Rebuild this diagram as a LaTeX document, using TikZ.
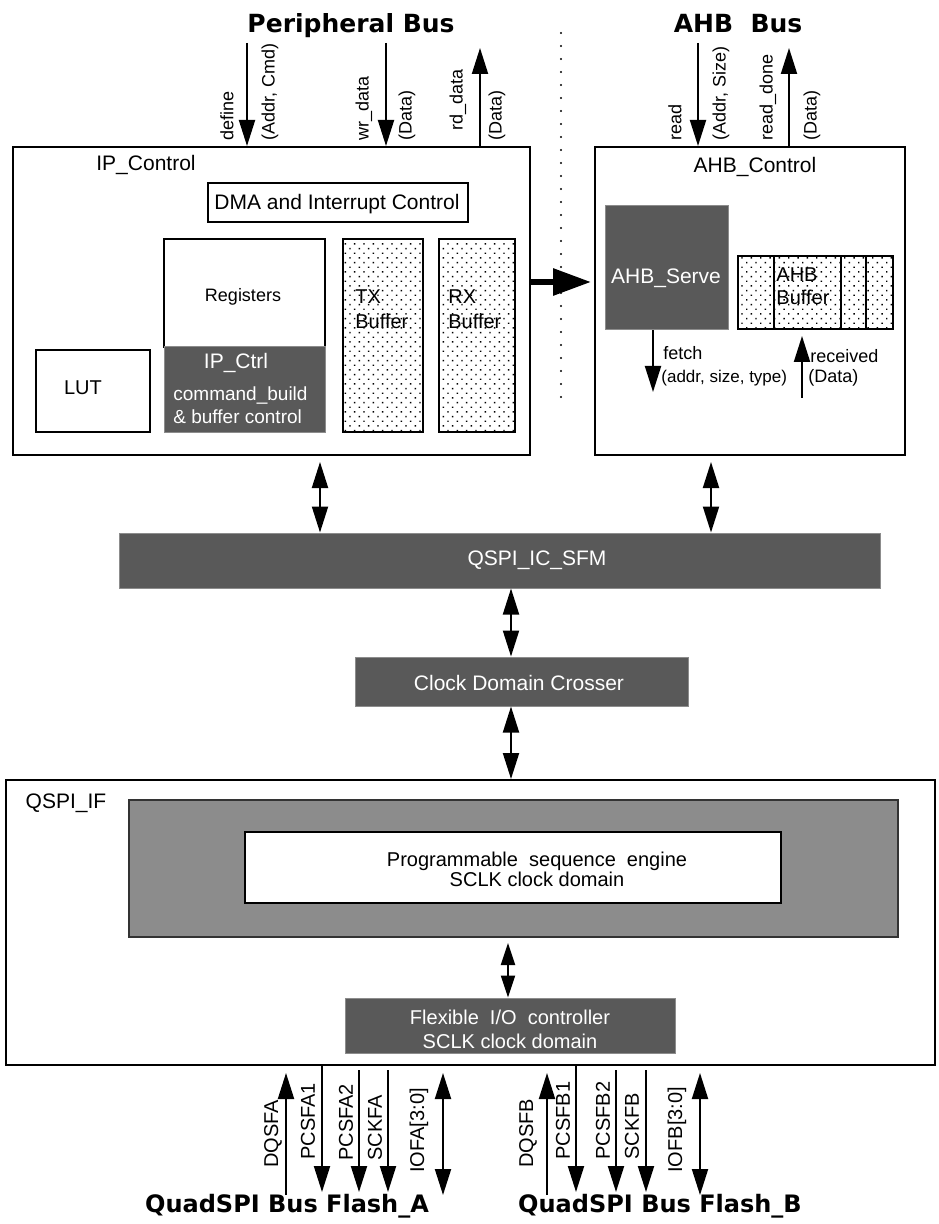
\documentclass[tikz,border=0pt]{standalone}
\usepackage{fontspec}
\setmainfont{Liberation Sans}
\newfontfamily\headfont{DejaVu Sans}
\usetikzlibrary{arrows.meta,positioning,fit,patterns.meta}
\definecolor{blockgray}{HTML}{595959}
\definecolor{meshgray}{HTML}{8C8C8C}
\newcommand{\fsz}[2]{\fontsize{#1}{#2}\selectfont}
\tikzset{
  outerbox/.style={draw=black, line width=1pt, inner sep=0pt},
  innerbox/.style={draw=black, line width=1pt, fill=white, inner sep=0pt},
  darkbox/.style={fill=blockgray, draw=black!45, line width=0.5pt, inner sep=0pt},
  dotbox/.style={draw=black, line width=1pt, inner sep=0pt,
    pattern={Dots[distance=3.3pt, angle=45, radius=0.5pt]}},
  meshbox/.style={draw=black!80, line width=1pt, fill=meshgray, inner sep=0pt},
  boxtext/.style={font=\fsz{10.5}{12.5}, inner sep=0pt},
  whitetext/.style={boxtext, text=white},
  siglbl/.style={rotate=90, anchor=west, inner sep=0pt, font=\fsz{9}{10}},
  pinlbl/.style={rotate=90, anchor=west, inner sep=0pt, font=\fsz{10}{11}},
  buslbl/.style={font=\headfont\bfseries\fsz{12.5}{14}, inner sep=0pt, anchor=base},
  sigar/.style={-{Triangle[length=13pt,width=8pt]}, line width=1pt},
  bisigar/.style={{Triangle[length=13pt,width=8pt]}-{Triangle[length=13pt,width=8pt]}, line width=1pt},
  shortbiar/.style={{Triangle[length=11pt,width=7pt]}-{Triangle[length=11pt,width=7pt]}, line width=1pt},
  bigar/.style={-{Triangle[length=19pt,width=13pt]}, line width=3pt},
  sepline/.style={line width=1.2pt, dash pattern=on 0pt off 6.5pt, line cap=round}
}
\begin{document}
\begin{tikzpicture}[x=0.5pt,y=-0.5pt]
  \useasboundingbox (0,0) rectangle (938,1224);

  % bus titles
  \node[buslbl] (periphbus) at (351,33) {Peripheral Bus};
  \node[buslbl] (ahbbus)    at (738,33) {AHB\ \ Bus};

  % separator
  \coordinate (septop) at (561,33);
  \coordinate (sepbot) at (561,410);
  \draw[sepline] (septop) -- (sepbot);

  % IP side
  \node[outerbox, fit={(13,147) (530,455)}] (ipctl) {};
  \node[boxtext, anchor=west] (ipctllbl) at (96,165) {IP\_Control};
  \node[innerbox, fit={(208,183) (468,222)}] (dma) {};
  \node[boxtext] (dmalbl) at (337,204) {DMA and Interrupt Control};
  \node[innerbox, fit={(164,239) (325,347)}] (regs) {};
  \node[boxtext, font=\fsz{9}{10}] (regslbl) at (243,297) {Registers};
  \node[darkbox, fit={(164,347) (325,432)}] (ipctrl) {};
  \node[whitetext] (ipctrllbl) at (236,363) {IP\_Ctrl};
  \node[whitetext, anchor=west, align=left, font=\fsz{9.5}{11.5}] (ipctrltxt) at (173,405.5)
    {command\_build\\\& buffer control};
  \node[innerbox, fit={(36,350) (150,432)}] (lut) {};
  \node[boxtext, font=\fsz{10}{12}] (lutlbl) at (83,388) {LUT};
  \node[dotbox, fit={(343,239) (423,432)}] (txbuf) {};
  \node[boxtext, anchor=west, align=left, font=\fsz{10}{12.5}] (txlbl) at (355,309.5) {TX\\Buffer};
  \node[dotbox, fit={(439,239) (515,432)}] (rxbuf) {};
  \node[boxtext, anchor=west, align=left, font=\fsz{10}{12.5}] (rxlbl) at (448,309.5) {RX\\Buffer};

  % AHB side
  \node[outerbox, fit={(595,147) (905,455)}] (ahbctl) {};
  \node[boxtext] (ahbctllbl) at (755,167) {AHB\_Control};
  \node[darkbox, fit={(605,206) (728,330)}] (ahbserve) {};
  \node[whitetext] (ahbservelbl) at (666,278) {AHB\_Serve};
  \foreach \xa/\xb [count=\i] in {738/774,774/841,841/866,866/893}
    \node[dotbox, fit={(\xa,256) (\xb,329)}] (ahbcell\i) {};
  \node[boxtext, anchor=west, align=left, font=\fsz{10}{11.5}] (ahbbuflbl) at (776,286.5) {AHB\\Buffer};

  \coordinate (fetchend) at (653,392);
  \draw[sigar] (ahbserve.south -| fetchend) -- (fetchend);
  \node[boxtext, anchor=west, font=\fsz{9}{10}] (fetchlbl) at (663,353) {fetch};
  \node[boxtext, anchor=west, font=\fsz{8.5}{10}] (fetchargs) at (661,378) {(addr, size, type)};
  \coordinate (recvstart) at (802,398);
  \draw[sigar, shorten >=3pt] (recvstart) -- (recvstart |- ahbcell2.south);
  \node[boxtext, anchor=west, font=\fsz{9}{10}] (recvlbl) at (810,356) {received};
  \node[boxtext, anchor=west, font=\fsz{9}{10}] (recvargs) at (808,378) {(Data)};

  \coordinate (xferrow) at (0,282);
  \draw[bigar, shorten >=1.5pt] (ipctl.east |- xferrow) -- (ahbctl.west |- xferrow);

  % peripheral bus signals
  \node[siglbl] (definelbl)  at (227,141) {define};
  \node[siglbl] (defineargs) at (270,141) {(Addr, Cmd)};
  \coordinate (definesrc) at (247,43);
  \draw[sigar] (definesrc) -- (definesrc |- ipctl.north);
  \node[siglbl] (wrdatalbl)  at (364,141) {wr\_data};
  \node[siglbl] (wrdataargs) at (407,141) {(Data)};
  \coordinate (wrdatasrc) at (386,43);
  \draw[sigar] (wrdatasrc) -- (wrdatasrc |- ipctl.north);
  \node[siglbl] (rddatalbl)  at (458,131) {rd\_data};
  \node[siglbl] (rddataargs) at (497,141) {(Data)};
  \coordinate (rddataend) at (480,48);
  \draw[sigar] (ipctl.north -| rddataend) -- (rddataend);

  % AHB bus signals
  \node[siglbl] (readlbl)  at (675,141) {read};
  \node[siglbl] (readargs) at (721,141) {(Addr, Size)};
  \coordinate (readsrc) at (698,43);
  \draw[sigar] (readsrc) -- (readsrc |- ahbctl.north);
  \node[siglbl] (donelbl)  at (768,141) {read\_done};
  \node[siglbl] (doneargs) at (812,141) {(Data)};
  \coordinate (doneend) at (789,48);
  \draw[sigar] (ahbctl.north -| doneend) -- (doneend);

  % interconnect
  \node[darkbox, fit={(119,533) (880,588)}] (sfm) {};
  \node[whitetext] (sfmlbl) at (537,560) {QSPI\_IC\_SFM};
  \node[darkbox, fit={(355,657) (688,706)}] (cdc) {};
  \node[whitetext] (cdclbl) at (519,683) {Clock Domain Crosser};
  \coordinate (ipdown) at (320,0);
  \coordinate (ahbdown) at (711,0);
  \coordinate (cdcx) at (511,0);
  \draw[bisigar, shorten <=3pt] (ipctl.south -| ipdown) -- (sfm.north -| ipdown);
  \draw[bisigar, shorten <=3pt] (ahbctl.south -| ahbdown) -- (sfm.north -| ahbdown);
  \draw[bisigar] (sfm.south -| cdcx) -- (cdc.north -| cdcx);

  % QSPI interface
  \node[outerbox, fit={(6,780) (935,1065)}] (qspiif) {};
  \node[boxtext] (qspiiflbl) at (66,803) {QSPI\_IF};
  \node[meshbox, fit={(129,800) (898,937)}] (mesh) {};
  \node[innerbox, fit={(245,832) (781,903)}] (engine) {};
  \node[boxtext, align=center, font=\fsz{10}{10}] (enginelbl) at (537,869)
    {Programmable\ \ sequence\ \ engine\\SCLK clock domain};
  \node[darkbox, fit={(345,998) (675,1053)}] (flex) {};
  \node[whitetext, align=center, font=\fsz{10}{12}] (flexlbl) at (510,1029)
    {Flexible\ \ I/O\ \ controller\\SCLK clock domain};
  \coordinate (flexx) at (508,0);
  \draw[shortbiar, shorten <=2.5pt] (mesh.south -| flexx) -- (flex.north -| flexx);
  \draw[bisigar] (cdc.south -| cdcx) -- (qspiif.north -| cdcx);

  % flash A pins
  \node[pinlbl] (dqsfalbl)  at (273,1168) {DQSFA};
  \node[pinlbl] (pcsfa1lbl) at (308,1160) {PCSFA1};
  \node[pinlbl] (pcsfa2lbl) at (346,1161) {PCSFA2};
  \node[pinlbl] (sckfalbl)  at (375,1161) {SCKFA};
  \node[pinlbl] (iofalbl)   at (419,1173) {IOFA[3:0]};
  \coordinate (dqsfaend)  at (286,1195);
  \coordinate (pcsfa1end) at (322,1192);
  \coordinate (pcsfa2end) at (359,1192);
  \coordinate (sckfaend)  at (388,1192);
  \coordinate (iofaend)   at (443,1195);
  \draw[sigar, shorten >=3.5pt] (dqsfaend) -- (dqsfaend |- qspiif.south);
  \draw[sigar] (qspiif.south -| pcsfa1end) -- (pcsfa1end);
  \draw[sigar, shorten <=2pt] (qspiif.south -| pcsfa2end) -- (pcsfa2end);
  \draw[sigar, shorten <=2pt] (qspiif.south -| sckfaend) -- (sckfaend);
  \draw[bisigar, shorten <=3.5pt] (qspiif.south -| iofaend) -- (iofaend);
  \node[buslbl, font=\headfont\bfseries\fsz{12}{14}] (flasha) at (287,1212) {QuadSPI Bus Flash\_A};

  % flash B pins
  \node[pinlbl] (dqsfblbl)  at (528,1168) {DQSFB};
  \node[pinlbl] (pcsfb1lbl) at (563,1160) {PCSFB1};
  \node[pinlbl] (pcsfb2lbl) at (603,1160) {PCSFB2};
  \node[pinlbl] (sckfblbl)  at (632,1160) {SCKFB};
  \node[pinlbl] (iofblbl)   at (677,1173) {IOFB[3:0]};
  \coordinate (dqsfbend)  at (547,1195);
  \coordinate (pcsfb1end) at (576,1192);
  \coordinate (pcsfb2end) at (616,1192);
  \coordinate (sckfbend)  at (646,1192);
  \coordinate (iofbend)   at (700,1195);
  \draw[sigar, shorten >=3.5pt] (dqsfbend) -- (dqsfbend |- qspiif.south);
  \draw[sigar] (qspiif.south -| pcsfb1end) -- (pcsfb1end);
  \draw[sigar, shorten <=2pt] (qspiif.south -| pcsfb2end) -- (pcsfb2end);
  \draw[sigar, shorten <=2pt] (qspiif.south -| sckfbend) -- (sckfbend);
  \draw[bisigar, shorten <=3.5pt] (qspiif.south -| iofbend) -- (iofbend);
  \node[buslbl, font=\headfont\bfseries\fsz{12}{14}] (flashb) at (660,1212) {QuadSPI Bus Flash\_B};
\end{tikzpicture}
\end{document}
